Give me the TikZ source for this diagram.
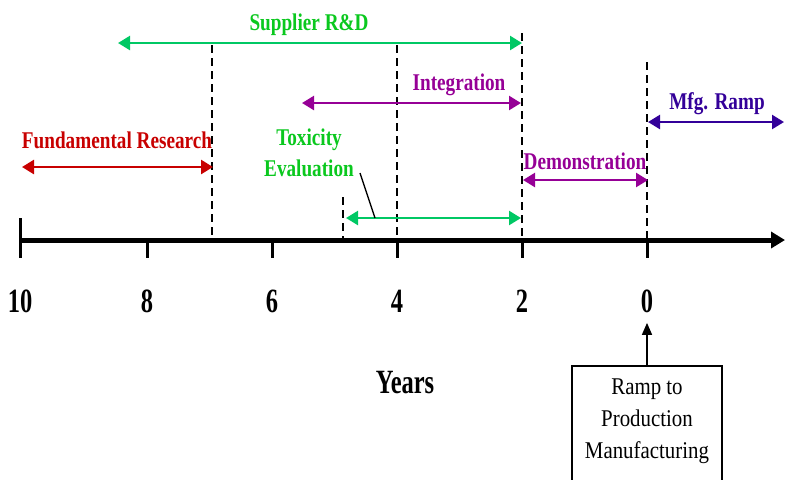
\documentclass[tikz,border=0pt]{standalone}
\usepackage{fontspec}
\setmainfont{Liberation Serif}
\usetikzlibrary{arrows.meta,positioning}

\definecolor{supgreen}{RGB}{0,200,100}
\definecolor{txtgreen}{RGB}{10,200,30}
\definecolor{resred}{RGB}{200,0,0}
\definecolor{intpurple}{RGB}{150,0,150}
\definecolor{mfgblue}{RGB}{51,0,153}

\begin{document}
\begin{tikzpicture}[
  x=0.5pt, y=-0.5pt,
  span/.style={line width=1.2pt,
    {Triangle[length=6pt,width=7pt]}-{Triangle[length=6pt,width=7pt]}},
  guide/.style={line width=0.6pt, dash pattern=on 4pt off 2.5pt},
  tickmark/.style={line width=1.5pt},
  lbl/.style={font=\fontsize{12}{15.5}\selectfont\bfseries, xscale=0.8, inner sep=0pt},
  yearnum/.style={font=\fontsize{17}{20}\selectfont\bfseries, xscale=0.72, inner sep=0pt},
  rampbox/.style={draw, line width=1pt, minimum width=75pt, minimum height=80pt}
  ]
  % 画布范围
  \clip (0,0) rectangle (785,479);

  % 时间轴
  \coordinate (ax-l) at (20,240);
  \coordinate (ax-r) at (785,240);
  \draw[line width=2.5pt, -{Triangle[length=7pt,width=8pt]}] (ax-l) -- (ax-r);
  \draw[tickmark] (20,218) -- (20,258);

  % 刻度与年份
  \foreach \yr/\x in {10/20, 8/147, 6/272, 4/397, 2/522, 0/647} {
    \coordinate (t\yr) at (\x,240);
    \draw[tickmark] (t\yr) -- (\x,258);
    \node[yearnum] (y\yr) at (\x,301) {\yr};
  }

  % 虚线分界
  \foreach \x/\top in {212/45, 397/45, 522/33, 647/62, 343/197}
    \draw[guide] (\x,\top) -- (\x,240);

  % Supplier R&D
  \coordinate (sup-l) at (118,43);
  \coordinate (sup-r) at (522,43);
  \draw[span, supgreen] (sup-l) -- (sup-r);
  \node[lbl, text=txtgreen] (sup) at (309,25) {Supplier R\&D};

  % Integration
  \coordinate (int-l) at (302,103);
  \coordinate (int-r) at (521,103);
  \draw[span, intpurple] (int-l) -- (int-r);
  \node[lbl, text=intpurple] (int) at (459,85) {Integration};

  % Fundamental Research
  \coordinate (fun-l) at (22,167);
  \coordinate (fun-r) at (213,167);
  \draw[span, resred, line width=1.3pt] (fun-l) -- (fun-r);
  \node[lbl, text=resred] (fun) at (117,140) {Fundamental Research};

  % Toxicity Evaluation
  \coordinate (tox-l) at (346,218);
  \coordinate (tox-r) at (521,218);
  \draw[span, supgreen] (tox-l) -- (tox-r);
  \node[lbl, text=txtgreen, align=center] (tox) at (309,153) {Toxicity\\Evaluation};
  \coordinate (lead-a) at (360,173);
  \coordinate (lead-b) at (375,218);
  \draw[line width=0.7pt] (lead-a) -- (lead-b);

  % Demonstration
  \coordinate (dem-l) at (523,180);
  \coordinate (dem-r) at (648,180);
  \draw[span, intpurple] (dem-l) -- (dem-r);
  \node[lbl, text=intpurple] (dem) at (585,161) {Demonstration};

  % Mfg. Ramp
  \coordinate (mfg-l) at (648,122);
  \coordinate (mfg-r) at (784,122);
  \draw[span, mfgblue] (mfg-l) -- (mfg-r);
  \node[lbl, text=mfgblue] (mfg) at (717,104) {Mfg. Ramp};

  % 横轴名称
  \node[font=\fontsize{17}{20}\selectfont\bfseries, xscale=0.72, inner sep=0pt] (years) at (405,383) {Years};

  % 量产方框
  \node[rampbox, anchor=north] (ramp) at (647,365) {};
  \node[font=\fontsize{12}{16}\selectfont, xscale=0.87, align=center, inner sep=0pt] (ramptxt) at (647,421)
    {Ramp to\\Production\\Manufacturing};
  \draw[line width=0.8pt, -{Triangle[length=6pt,width=5pt]}, shorten >=5pt] (ramp.north) -- (y0.south);
\end{tikzpicture}
\end{document}
